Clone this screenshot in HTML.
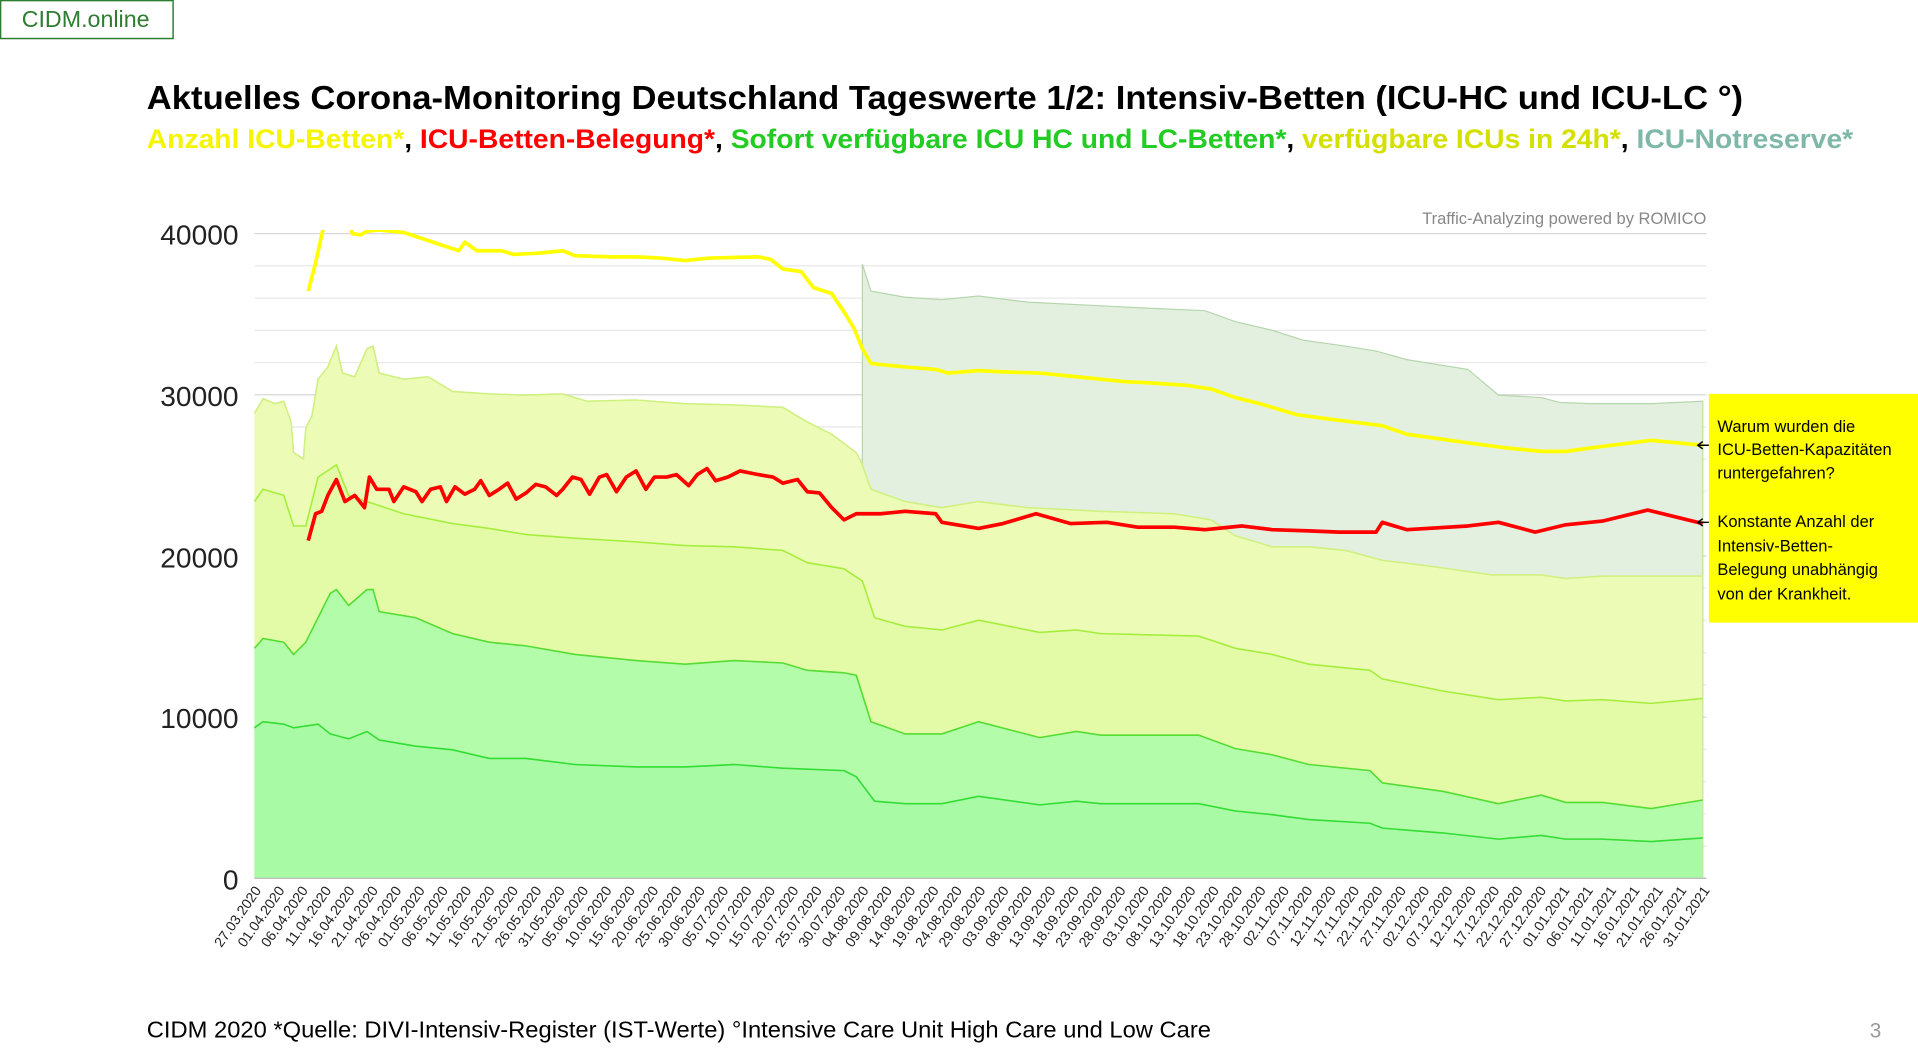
<!DOCTYPE html>
<html><head><meta charset="utf-8">
<style>
html,body{margin:0;padding:0;background:#fff;width:1918px;height:1051px;overflow:hidden}
svg{display:block}
text{font-family:"Liberation Sans",sans-serif}
</style></head>
<body>
<svg id="s" width="1918" height="1051" viewBox="0 0 1568 859.2" preserveAspectRatio="none" xmlns="http://www.w3.org/2000/svg">
<rect x="0" y="0" width="1568" height="860" fill="#fff"/>
<rect x="0.5" y="0.5" width="141" height="31" fill="#fff" stroke="#2e7d32" stroke-width="1.2"/>
<text x="70" y="22" font-size="19" fill="#2e7d32" text-anchor="middle">CIDM.online</text>
<text x="120" y="89" font-size="27" font-weight="bold" fill="#000" textLength="1305" lengthAdjust="spacingAndGlyphs">Aktuelles Corona-Monitoring Deutschland Tageswerte 1/2: Intensiv-Betten (ICU-HC und ICU-LC °)</text>
<text x="120" y="121" font-size="22" font-weight="bold" textLength="1395" lengthAdjust="spacingAndGlyphs"><tspan fill="#f5f500">Anzahl ICU-Betten*</tspan><tspan fill="#000">, </tspan><tspan fill="#ff0000">ICU-Betten-Belegung*</tspan><tspan fill="#000">, </tspan><tspan fill="#22cc22">Sofort verfügbare ICU HC und LC-Betten*</tspan><tspan fill="#000">, </tspan><tspan fill="#d4e000">verfügbare ICUs in 24h*</tspan><tspan fill="#000">, </tspan><tspan fill="#7fb8a8">ICU-Notreserve*</tspan></text>
<text x="1395" y="183" font-size="13.5" fill="#888" text-anchor="end">Traffic-Analyzing powered by ROMICO</text>
<g id="grid"></g>
<g id="areas"></g>
<g id="lines"></g>
<g font-size="23" fill="#222" text-anchor="end">
<text x="195" y="200">40000</text><text x="195" y="332">30000</text><text x="195" y="464">20000</text><text x="195" y="595">10000</text><text x="195" y="727">0</text>
</g>
<g id="xl" font-size="11.5" fill="#222"></g>
<rect x="1397" y="322" width="171" height="187" fill="#ffff00"/>
<g font-size="13.5" fill="#000">
<text x="1404" y="353">Warum wurden die</text>
<text x="1404" y="372">ICU-Betten-Kapazitäten</text>
<text x="1404" y="391">runtergefahren?</text>
<text x="1404" y="431">Konstante Anzahl der</text>
<text x="1404" y="451">Intensiv-Betten-</text>
<text x="1404" y="470">Belegung unabhängig</text>
<text x="1404" y="490">von der Krankheit.</text>
</g>
<path d="M1397,364 L1388,364 M1392,361 L1388,364 L1392,367 M1397,427 L1388,427 M1392,424 L1388,427 L1392,430" stroke="#000" stroke-width="1.2" fill="none"/>
<text x="120" y="848" font-size="19" fill="#000" textLength="870" lengthAdjust="spacingAndGlyphs">CIDM 2020  *Quelle: DIVI-Intensiv-Register (IST-Werte)   °Intensive Care Unit High Care und Low Care</text>
<text x="1538" y="848" font-size="17" fill="#999" text-anchor="end">3</text>
</svg>
<script>
var NS="http://www.w3.org/2000/svg";
function el(p,t,a){var e=document.createElementNS(NS,t);for(var k in a)e.setAttribute(k,a[k]);document.getElementById(p).appendChild(e);return e;}
for(var v=0;v<=40000;v+=2000){var y=718-v*527/40000;el("grid","line",{x1:208,x2:1395,y1:y,y2:y,stroke:v%10000==0?"#d8d8d8":"#e8e8e8","stroke-width":1});}
function P(s){return s.trim().split(/\s+/).map(function(q){return q.split(",").map(Number);});}
function str(a){return a.map(function(p){return p[0]+","+p[1];}).join(" ");}
var L1=P("208,338 215,326 225,330 232,328 238,345 240,370 248,375 250,350 255,340 260,310 268,300 275,283 280,305 290,308 300,285 305,283 310,305 330,310 350,308 370,320 400,322 430,323 460,322 480,328 520,327 560,330 600,331 640,333 660,345 680,355 700,370 705,380 712,400 740,410 770,415 800,410 840,415 900,418 960,420 990,425 1010,438 1040,447 1070,447 1100,450 1130,458 1170,463 1220,470 1260,470 1280,473 1310,471 1392,471");
var NR=P("705,216 712,238 740,243 770,245 800,242 840,247 900,250 940,252 985,254 1010,263 1040,270 1065,278 1100,283 1125,287 1150,294 1200,302 1225,323 1260,325 1275,329 1300,330 1350,330 1392,328");
var L2=P("208,410 215,400 232,405 240,430 250,430 260,390 275,380 285,405 300,410 330,420 370,428 400,432 430,437 470,440 520,443 560,446 600,447 640,450 660,460 690,465 705,475 715,505 740,512 770,515 800,507 850,517 880,515 900,518 980,520 1010,530 1040,535 1070,543 1120,548 1130,555 1180,565 1225,572 1260,570 1280,573 1310,572 1350,575 1392,571");
var L3=P("208,530 215,522 232,525 240,535 250,525 260,505 270,485 275,482 285,495 300,482 305,482 310,500 340,505 370,518 400,525 430,528 470,535 520,540 560,543 600,540 640,542 660,548 690,550 700,552 712,590 740,600 770,600 800,590 850,603 880,598 900,601 980,601 1010,612 1040,617 1070,625 1120,630 1130,640 1180,647 1225,657 1260,650 1280,656 1310,656 1350,661 1392,654");
var L4=P("208,595 215,590 232,592 240,595 260,592 270,600 285,604 300,598 310,605 340,610 370,613 400,620 430,620 470,625 520,627 560,627 600,625 640,628 690,630 700,635 715,655 740,657 770,657 800,651 850,658 880,655 900,657 980,657 1010,663 1040,666 1070,670 1120,673 1130,677 1180,681 1225,686 1260,683 1280,686 1310,686 1350,688 1392,685");
var Y=P("252,238 258,215 263,192 266,180 285,180 288,191 295,192 300,189 310,188 330,190 345,195 360,200 375,205 380,198 390,205 410,205 420,208 440,207 460,205 470,209 500,210 520,210 540,211 560,213 580,211 620,210 630,212 640,220 655,222 665,235 680,240 690,255 698,268 705,285 712,297 720,298 740,300 765,302 775,305 800,303 820,304 850,305 880,308 920,312 940,313 970,315 990,318 1010,325 1030,330 1060,339 1090,343 1130,348 1150,355 1200,362 1230,366 1260,369 1280,369 1310,365 1350,360 1392,364");
var R=P("252,442 258,420 263,418 268,405 275,392 282,410 290,405 298,415 302,390 308,400 318,400 322,410 330,398 340,402 345,410 352,400 360,398 365,410 372,398 380,404 388,400 393,393 400,405 408,400 415,395 422,408 430,403 438,396 446,398 455,405 460,400 468,390 475,392 482,404 490,390 496,388 504,402 512,390 520,385 528,400 535,390 545,390 553,388 563,397 570,388 578,383 585,393 595,390 605,385 620,388 632,390 640,395 652,392 660,402 670,403 680,415 690,425 700,420 720,420 740,418 765,420 770,427 800,432 820,428 847,420 875,428 905,427 930,431 960,431 985,433 1015,430 1040,433 1070,434 1095,435 1125,435 1130,427 1150,433 1200,430 1225,427 1255,435 1280,429 1310,426 1347,417 1392,428");
var seg=L1.filter(function(p){return p[0]>=705;}).reverse();
el("areas","polygon",{points:str(NR.concat(seg)),fill:"#e4f0df",stroke:"none"});
el("areas","polyline",{points:"705,718 705,216 "+str(NR)+" 1392,718",fill:"none",stroke:"#b5d6ad","stroke-width":1});
el("areas","polygon",{points:str(L1)+" 1392,718 208,718",fill:"#ecfcb6"});
el("areas","polygon",{points:str(L2)+" 1392,718 208,718",fill:"#e3fba6"});
el("areas","polygon",{points:str(L3)+" 1392,718 208,718",fill:"#b2fcaa"});
el("areas","polygon",{points:str(L4)+" 1392,718 208,718",fill:"#a9faa4"});
el("areas","line",{x1:1392,x2:1392,y1:328,y2:718,stroke:"#c8e8a0","stroke-width":1});
el("lines","polyline",{points:str(L1),fill:"none",stroke:"#d0f080","stroke-width":1.3});
el("lines","polyline",{points:str(L2),fill:"none",stroke:"#a6ee3e","stroke-width":1.3});
el("lines","polyline",{points:str(L3),fill:"none",stroke:"#55dd33","stroke-width":1.3});
el("lines","polyline",{points:str(L4),fill:"none",stroke:"#33dd33","stroke-width":1.3});
el("lines","line",{x1:208,x2:1395,y1:718,y2:718,stroke:"#bbb","stroke-width":1});
var cp=el("lines","clipPath",{id:"c"});var r=document.createElementNS(NS,"rect");r.setAttribute("x",200);r.setAttribute("y",188);r.setAttribute("width",1200);r.setAttribute("height",540);cp.appendChild(r);
el("lines","polyline",{points:str(Y),fill:"none",stroke:"#ffff00","stroke-width":3,"clip-path":"url(#c)","stroke-linejoin":"round"});
el("lines","polyline",{points:str(R),fill:"none",stroke:"#ff0000","stroke-width":3,"stroke-linejoin":"round"});
var d="27.03.2020 01.04.2020 06.04.2020 11.04.2020 16.04.2020 21.04.2020 26.04.2020 01.05.2020 06.05.2020 11.05.2020 16.05.2020 21.05.2020 26.05.2020 31.05.2020 05.06.2020 10.06.2020 15.06.2020 20.06.2020 25.06.2020 30.06.2020 05.07.2020 10.07.2020 15.07.2020 20.07.2020 25.07.2020 30.07.2020 04.08.2020 09.08.2020 14.08.2020 19.08.2020 24.08.2020 29.08.2020 03.09.2020 08.09.2020 13.09.2020 18.09.2020 23.09.2020 28.09.2020 03.10.2020 08.10.2020 13.10.2020 18.10.2020 23.10.2020 28.10.2020 02.11.2020 07.11.2020 12.11.2020 17.11.2020 22.11.2020 27.11.2020 02.12.2020 07.12.2020 12.12.2020 17.12.2020 22.12.2020 27.12.2020 01.01.2021 06.01.2021 11.01.2021 16.01.2021 21.01.2021 26.01.2021 31.01.2021".split(" ");
d.forEach(function(t,i){var x=208+19.1*i+6,y=728;var e=el("xl","text",{x:x,y:y,"text-anchor":"end",transform:"rotate(-55 "+x+" "+y+")"});e.textContent=t;});
</script>
</body></html>
